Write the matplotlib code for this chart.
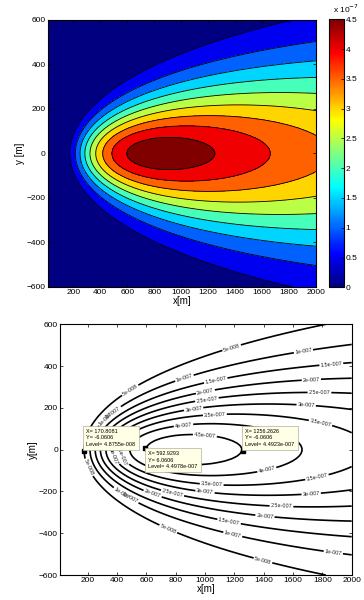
import re
import numpy as np
import matplotlib
matplotlib.use("Agg")
import matplotlib.pyplot as plt
from matplotlib.colors import Normalize, LinearSegmentedColormap
from matplotlib.cm import ScalarMappable

plt.rcParams['font.family'] = ['Liberation Sans', 'DejaVu Sans']

# Receptor grid (m)
x_grid = np.linspace(10, 2000, 100)
y_grid = np.linspace(-600, 600, 100)

# Ground-level plume parameters
unit = 1e-7
log_strength = 9.363
decay_exp = 1.0067
lift_term = 849.9
sigma_a = 4.0
sigma_p = 0.574

# Contour levels and colorbar ticks
levels = [0.5e-7, 1.0e-7, 1.5e-7, 2.0e-7, 2.5e-7, 3.0e-7, 3.5e-7, 4.0e-7, 4.5e-7]
cbar_ticks = [0, 0.5, 1, 1.5, 2, 2.5, 3, 3.5, 4, 4.5]
x_ticks = [200, 400, 600, 800, 1000, 1200, 1400, 1600, 1800, 2000]
y_ticks = [-600, -400, -200, 0, 200, 400, 600]

# Data cursor readouts
tip_x = [170.8081, 592.9293, 1256.2626]
tip_y = [-6.0606, 6.0606, -6.0606]
tip_level = [4.8755e-8, 4.4978e-7, 4.4923e-7]

X, Y = np.meshgrid(x_grid, y_grid)
centerline = unit * np.exp(log_strength - decay_exp * np.log(X) - lift_term / X)
sigma_y = sigma_a * X ** sigma_p
Z = centerline * np.exp(-Y ** 2 / (2 * sigma_y ** 2))

# Classic jet ramps (blue -> cyan -> yellow -> red -> dark red)
jet_classic = LinearSegmentedColormap('jet_classic', {
    'red':   [(0, 0, 0), (0.375, 0, 0), (0.625, 1, 1), (0.875, 1, 1), (1, 0.5, 0.5)],
    'green': [(0, 0, 0), (0.125, 0, 0), (0.375, 1, 1), (0.625, 1, 1), (0.875, 0, 0), (1, 0, 0)],
    'blue':  [(0, 0.5, 0.5), (0.125, 1, 1), (0.375, 1, 1), (0.625, 0, 0), (1, 0, 0)],
}, N=256)


def matlab_g(v, digits=None):
    s = f"{v:.{digits}g}" if digits else f"{v:g}"
    m = re.match(r"(.*)e([+-])(\d+)$", s)
    if m:
        s = f"{m.group(1)}e{m.group(2)}{int(m.group(3)):03d}"
    return s


def style_axes(ax):
    ax.set_xlim(10, 2000)
    ax.set_ylim(-600, 600)
    ax.set_xticks(x_ticks)
    ax.set_yticks(y_ticks)
    ax.tick_params(direction='in', top=True, right=True, length=2.5, width=0.5,
                   labelsize=6, pad=1.5)
    for sp in ax.spines.values():
        sp.set_linewidth(0.8)


fig = plt.figure(figsize=(3.64, 6.0), dpi=100)

# ---- filled contour map ----
vmax = levels[-1]
fill_levels = [0.0] + levels + [max(Z.max(), vmax) * 1.001]
fill_colors = [jet_classic(l / vmax) for l in fill_levels[:-1]]

ax1 = fig.add_axes([47.7 / 364, 1 - 287 / 600, (316 - 47.7) / 364, 267 / 600])
ax1.contourf(X, Y, Z, levels=fill_levels, colors=fill_colors)
ax1.contour(X, Y, Z, levels=levels, colors='black', linewidths=0.6)
style_axes(ax1)
ax1.set_xlabel('x[m]', fontsize=7, labelpad=0)
ax1.set_ylabel('y [m]', fontsize=7, labelpad=1)

cax = fig.add_axes([328.5 / 364, 1 - 287.3 / 600, 15.5 / 364, 268 / 600])
sm = ScalarMappable(norm=Normalize(0, vmax), cmap=jet_classic)
cb = fig.colorbar(sm, cax=cax)
cb.set_ticks([t * unit for t in cbar_ticks])
cb.set_ticklabels([f"{t:g}" for t in cbar_ticks])
cax.tick_params(direction='in', length=2, width=0.5, labelsize=6, pad=1)
cb.outline.set_linewidth(0.8)
fig.text(333 / 364, 1 - 13 / 600, r'x 10$^{-7}$', fontsize=6)

# ---- labelled contour lines ----
ax2 = fig.add_axes([60 / 364, 1 - 575 / 600, 291.7 / 364, 250.7 / 600])
cs = ax2.contour(X, Y, Z, levels=levels, colors='black', linewidths=1.2)
label_spots = [
    (1168, 520), (1667, 488), (1860, 416), (1724, 344), (1780, 283), (1690, 219),
    (1792, 144), (476, 298), (851, 360), (1066, 352), (998, 291), (1009, 253),
    (919, 208), (1066, 176), (851, 125), (998, 67), (204, -86), (306, 160),
    (363, 184), (397, -24), (442, -24), (442, -197), (465, -230), (635, -224),
    (772, -224), (1044, -176), (998, -208), (726, -416), (1418, -88),
    (1769, -152), (1724, -216), (1520, -285), (1406, -333), (1157, -368),
    (1180, -432), (1871, -509), (1383, -560),
]
ax2.clabel(cs, fmt=matlab_g, fontsize=4, inline=True, inline_spacing=1,
           manual=label_spots, colors='#222222')
style_axes(ax2)
ax2.set_xlabel('x[m]', fontsize=7, labelpad=0)
ax2.set_ylabel('y[m]', fontsize=7, labelpad=1)

tip_offsets = [((2, 3), 'bottom'), ((2, -2), 'top'), ((2, 3), 'bottom')]
for tx, ty, tl, (off, va) in zip(tip_x, tip_y, tip_level, tip_offsets):
    ax2.plot([tx], [ty], marker='s', ms=3.2, color='black', zorder=5)
    txt = f"X= {tx:.4f}\nY= {ty:.4f}\nLevel= {matlab_g(tl, 5)}"
    ax2.annotate(txt, xy=(tx, ty), xytext=off, textcoords='offset points',
                 ha='left', va=va, fontsize=4.0, linespacing=1.35, zorder=6,
                 bbox=dict(boxstyle='square,pad=0.55', fc='#ffffe6',
                           ec='#b0b0a0', lw=0.5))

fig.savefig('out.png', dpi=100)
